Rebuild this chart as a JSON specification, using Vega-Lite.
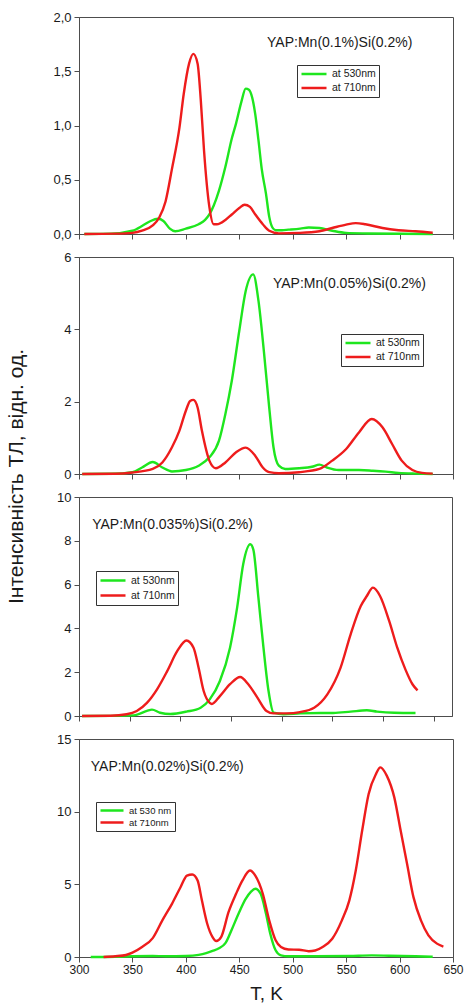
{
  "$schema": "https://vega.github.io/schema/vega-lite/v6.json",
  "background": "white",
  "padding": {"left": 4, "top": 10, "right": 0, "bottom": 0},
  "spacing": 23,
  "bounds": "flush",
  "config": {
    "font": "Liberation Sans",
    "view": {"stroke": "#4d4d4d", "strokeWidth": 1},
    "axis": {"domainColor": "#4d4d4d", "tickColor": "#4d4d4d", "labelColor": "#1a1a1a", "labelFont": "Liberation Sans", "grid": false, "domainWidth": 1, "tickWidth": 1, "titleColor": "#1a1a1a", "titleFont": "Liberation Sans", "titleFontWeight": "normal", "labelOverlap": false, "labelFlush": false},
    "legend": {"labelFont": "Liberation Sans", "labelColor": "#1a1a1a", "strokeColor": "#333333", "fillColor": "white", "symbolType": "stroke", "symbolStrokeWidth": 2.5, "rowPadding": 2, "padding": 3, "labelOffset": 4, "orient": "none", "title": null}
  },
  "datasets": {
    "p1": [
      {"s":"at 530nm","T":305,"I":0},{"s":"at 530nm","T":330,"I":0.003},{"s":"at 530nm","T":350,"I":0.03},{"s":"at 530nm","T":360,"I":0.08},{"s":"at 530nm","T":367,"I":0.12},{"s":"at 530nm","T":374,"I":0.14},{"s":"at 530nm","T":379,"I":0.12},{"s":"at 530nm","T":385,"I":0.05},{"s":"at 530nm","T":390,"I":0.025},{"s":"at 530nm","T":400,"I":0.05},{"s":"at 530nm","T":412,"I":0.09},{"s":"at 530nm","T":418,"I":0.13},{"s":"at 530nm","T":422,"I":0.18},{"s":"at 530nm","T":426,"I":0.26},{"s":"at 530nm","T":431,"I":0.4},{"s":"at 530nm","T":437,"I":0.62},{"s":"at 530nm","T":443,"I":0.88},{"s":"at 530nm","T":447,"I":1.02},{"s":"at 530nm","T":452,"I":1.22},{"s":"at 530nm","T":456,"I":1.34},{"s":"at 530nm","T":459,"I":1.33},{"s":"at 530nm","T":462,"I":1.26},{"s":"at 530nm","T":465,"I":1.1},{"s":"at 530nm","T":468,"I":0.86},{"s":"at 530nm","T":471,"I":0.6},{"s":"at 530nm","T":475,"I":0.37},{"s":"at 530nm","T":478,"I":0.16},{"s":"at 530nm","T":481,"I":0.06},{"s":"at 530nm","T":484,"I":0.035},{"s":"at 530nm","T":490,"I":0.035},{"s":"at 530nm","T":496,"I":0.04},{"s":"at 530nm","T":507,"I":0.05},{"s":"at 530nm","T":515,"I":0.06},{"s":"at 530nm","T":525,"I":0.055},{"s":"at 530nm","T":537,"I":0.03},{"s":"at 530nm","T":550,"I":0.01},{"s":"at 530nm","T":570,"I":0.005},{"s":"at 530nm","T":600,"I":0.002},{"s":"at 530nm","T":631,"I":0},
      {"s":"at 710nm","T":305,"I":0},{"s":"at 710nm","T":335,"I":0.003},{"s":"at 710nm","T":350,"I":0.01},{"s":"at 710nm","T":359,"I":0.03},{"s":"at 710nm","T":369,"I":0.08},{"s":"at 710nm","T":375,"I":0.15},{"s":"at 710nm","T":381,"I":0.3},{"s":"at 710nm","T":387,"I":0.6},{"s":"at 710nm","T":394,"I":0.98},{"s":"at 710nm","T":398,"I":1.29},{"s":"at 710nm","T":403,"I":1.57},{"s":"at 710nm","T":407,"I":1.66},{"s":"at 710nm","T":411,"I":1.57},{"s":"at 710nm","T":414,"I":1.23},{"s":"at 710nm","T":417,"I":0.77},{"s":"at 710nm","T":422,"I":0.25},{"s":"at 710nm","T":426,"I":0.09},{"s":"at 710nm","T":429,"I":0.09},{"s":"at 710nm","T":437,"I":0.13},{"s":"at 710nm","T":443,"I":0.18},{"s":"at 710nm","T":450,"I":0.24},{"s":"at 710nm","T":455,"I":0.27},{"s":"at 710nm","T":460,"I":0.25},{"s":"at 710nm","T":465,"I":0.18},{"s":"at 710nm","T":472,"I":0.09},{"s":"at 710nm","T":478,"I":0.03},{"s":"at 710nm","T":487,"I":0.006},{"s":"at 710nm","T":506,"I":0.01},{"s":"at 710nm","T":525,"I":0.025},{"s":"at 710nm","T":537,"I":0.055},{"s":"at 710nm","T":550,"I":0.086},{"s":"at 710nm","T":559,"I":0.1},{"s":"at 710nm","T":568,"I":0.09},{"s":"at 710nm","T":584,"I":0.055},{"s":"at 710nm","T":599,"I":0.035},{"s":"at 710nm","T":615,"I":0.025},{"s":"at 710nm","T":631,"I":0.012}
    ],
    "p2": [
      {"s":"at 530nm","T":303,"I":0},{"s":"at 530nm","T":330,"I":0.005},{"s":"at 530nm","T":350,"I":0.05},{"s":"at 530nm","T":359,"I":0.18},{"s":"at 530nm","T":369,"I":0.33},{"s":"at 530nm","T":378,"I":0.18},{"s":"at 530nm","T":387,"I":0.07},{"s":"at 530nm","T":400,"I":0.11},{"s":"at 530nm","T":412,"I":0.23},{"s":"at 530nm","T":422,"I":0.46},{"s":"at 530nm","T":431,"I":0.92},{"s":"at 530nm","T":437,"I":1.66},{"s":"at 530nm","T":443,"I":2.58},{"s":"at 530nm","T":450,"I":3.96},{"s":"at 530nm","T":456,"I":5.06},{"s":"at 530nm","T":463,"I":5.52},{"s":"at 530nm","T":468,"I":4.78},{"s":"at 530nm","T":473,"I":3.4},{"s":"at 530nm","T":478,"I":1.84},{"s":"at 530nm","T":482,"I":0.74},{"s":"at 530nm","T":487,"I":0.23},{"s":"at 530nm","T":493,"I":0.14},{"s":"at 530nm","T":506,"I":0.16},{"s":"at 530nm","T":518,"I":0.2},{"s":"at 530nm","T":525,"I":0.26},{"s":"at 530nm","T":532,"I":0.18},{"s":"at 530nm","T":543,"I":0.11},{"s":"at 530nm","T":562,"I":0.11},{"s":"at 530nm","T":575,"I":0.09},{"s":"at 530nm","T":587,"I":0.065},{"s":"at 530nm","T":599,"I":0.03},{"s":"at 530nm","T":615,"I":0.01},{"s":"at 530nm","T":631,"I":0},
      {"s":"at 710nm","T":303,"I":0},{"s":"at 710nm","T":334,"I":0.005},{"s":"at 710nm","T":350,"I":0.04},{"s":"at 710nm","T":369,"I":0.14},{"s":"at 710nm","T":378,"I":0.32},{"s":"at 710nm","T":387,"I":0.74},{"s":"at 710nm","T":394,"I":1.2},{"s":"at 710nm","T":400,"I":1.75},{"s":"at 710nm","T":404,"I":2.02},{"s":"at 710nm","T":407,"I":2.05},{"s":"at 710nm","T":411,"I":1.84},{"s":"at 710nm","T":415,"I":1.2},{"s":"at 710nm","T":422,"I":0.37},{"s":"at 710nm","T":428,"I":0.16},{"s":"at 710nm","T":437,"I":0.32},{"s":"at 710nm","T":447,"I":0.6},{"s":"at 710nm","T":456,"I":0.73},{"s":"at 710nm","T":465,"I":0.5},{"s":"at 710nm","T":472,"I":0.18},{"s":"at 710nm","T":478,"I":0.05},{"s":"at 710nm","T":487,"I":0.02},{"s":"at 710nm","T":506,"I":0.05},{"s":"at 710nm","T":525,"I":0.14},{"s":"at 710nm","T":537,"I":0.37},{"s":"at 710nm","T":550,"I":0.69},{"s":"at 710nm","T":562,"I":1.15},{"s":"at 710nm","T":574,"I":1.52},{"s":"at 710nm","T":584,"I":1.29},{"s":"at 710nm","T":593,"I":0.83},{"s":"at 710nm","T":602,"I":0.37},{"s":"at 710nm","T":612,"I":0.11},{"s":"at 710nm","T":621,"I":0.03},{"s":"at 710nm","T":631,"I":0.01}
    ],
    "p3": [
      {"s":"at 530nm","T":303,"I":0},{"s":"at 530nm","T":354,"I":0.03},{"s":"at 530nm","T":367,"I":0.23},{"s":"at 530nm","T":372,"I":0.29},{"s":"at 530nm","T":380,"I":0.15},{"s":"at 530nm","T":390,"I":0.09},{"s":"at 530nm","T":406,"I":0.2},{"s":"at 530nm","T":420,"I":0.38},{"s":"at 530nm","T":429,"I":0.76},{"s":"at 530nm","T":439,"I":1.6},{"s":"at 530nm","T":449,"I":3.12},{"s":"at 530nm","T":456,"I":4.95},{"s":"at 530nm","T":462,"I":6.93},{"s":"at 530nm","T":469,"I":7.84},{"s":"at 530nm","T":472,"I":7.6},{"s":"at 530nm","T":477,"I":5.4},{"s":"at 530nm","T":482,"I":3.12},{"s":"at 530nm","T":487,"I":1.14},{"s":"at 530nm","T":492,"I":0.15},{"s":"at 530nm","T":502,"I":0.08},{"s":"at 530nm","T":518,"I":0.12},{"s":"at 530nm","T":538,"I":0.14},{"s":"at 530nm","T":551,"I":0.14},{"s":"at 530nm","T":568,"I":0.2},{"s":"at 530nm","T":584,"I":0.26},{"s":"at 530nm","T":594,"I":0.2},{"s":"at 530nm","T":611,"I":0.15},{"s":"at 530nm","T":632,"I":0.14},
      {"s":"at 710nm","T":303,"I":0},{"s":"at 710nm","T":331,"I":0.01},{"s":"at 710nm","T":347,"I":0.08},{"s":"at 710nm","T":357,"I":0.23},{"s":"at 710nm","T":367,"I":0.6},{"s":"at 710nm","T":377,"I":1.22},{"s":"at 710nm","T":387,"I":2.05},{"s":"at 710nm","T":397,"I":2.97},{"s":"at 710nm","T":406,"I":3.45},{"s":"at 710nm","T":413,"I":3.12},{"s":"at 710nm","T":418,"I":2.2},{"s":"at 710nm","T":423,"I":1.14},{"s":"at 710nm","T":429,"I":0.6},{"s":"at 710nm","T":431,"I":0.55},{"s":"at 710nm","T":439,"I":0.91},{"s":"at 710nm","T":449,"I":1.45},{"s":"at 710nm","T":459,"I":1.78},{"s":"at 710nm","T":467,"I":1.45},{"s":"at 710nm","T":476,"I":0.84},{"s":"at 710nm","T":485,"I":0.23},{"s":"at 710nm","T":492,"I":0.12},{"s":"at 710nm","T":505,"I":0.12},{"s":"at 710nm","T":518,"I":0.18},{"s":"at 710nm","T":532,"I":0.38},{"s":"at 710nm","T":545,"I":0.99},{"s":"at 710nm","T":558,"I":2.2},{"s":"at 710nm","T":568,"I":3.73},{"s":"at 710nm","T":578,"I":5.02},{"s":"at 710nm","T":584,"I":5.48},{"s":"at 710nm","T":590,"I":5.86},{"s":"at 710nm","T":597,"I":5.48},{"s":"at 710nm","T":606,"I":4.34},{"s":"at 710nm","T":614,"I":3.12},{"s":"at 710nm","T":622,"I":2.13},{"s":"at 710nm","T":629,"I":1.45},{"s":"at 710nm","T":634,"I":1.17}
    ],
    "p4": [
      {"s":"at 530 nm","T":311,"I":0},{"s":"at 530 nm","T":334,"I":0.01},{"s":"at 530 nm","T":350,"I":0.05},{"s":"at 530 nm","T":369,"I":0.07},{"s":"at 530 nm","T":381,"I":0.05},{"s":"at 530 nm","T":400,"I":0.07},{"s":"at 530 nm","T":412,"I":0.15},{"s":"at 530 nm","T":419,"I":0.27},{"s":"at 530 nm","T":425,"I":0.42},{"s":"at 530 nm","T":431,"I":0.6},{"s":"at 530 nm","T":437,"I":0.95},{"s":"at 530 nm","T":443,"I":1.9},{"s":"at 530 nm","T":450,"I":3.1},{"s":"at 530 nm","T":456,"I":4.0},{"s":"at 530 nm","T":461,"I":4.5},{"s":"at 530 nm","T":465,"I":4.7},{"s":"at 530 nm","T":470,"I":4.35},{"s":"at 530 nm","T":475,"I":2.98},{"s":"at 530 nm","T":479,"I":1.6},{"s":"at 530 nm","T":484,"I":0.46},{"s":"at 530 nm","T":489,"I":0.11},{"s":"at 530 nm","T":496,"I":0.05},{"s":"at 530 nm","T":521,"I":0.05},{"s":"at 530 nm","T":553,"I":0.07},{"s":"at 530 nm","T":574,"I":0.11},{"s":"at 530 nm","T":590,"I":0.09},{"s":"at 530 nm","T":615,"I":0.05},{"s":"at 530 nm","T":631,"I":0.02},
      {"s":"at 710nm","T":323,"I":0},{"s":"at 710nm","T":334,"I":0.05},{"s":"at 710nm","T":344,"I":0.14},{"s":"at 710nm","T":350,"I":0.3},{"s":"at 710nm","T":359,"I":0.69},{"s":"at 710nm","T":369,"I":1.3},{"s":"at 710nm","T":378,"I":2.52},{"s":"at 710nm","T":387,"I":3.66},{"s":"at 710nm","T":395,"I":4.8},{"s":"at 710nm","T":401,"I":5.6},{"s":"at 710nm","T":406,"I":5.68},{"s":"at 710nm","T":411,"I":5.27},{"s":"at 710nm","T":415,"I":3.9},{"s":"at 710nm","T":420,"I":2.29},{"s":"at 710nm","T":425,"I":1.37},{"s":"at 710nm","T":428.5,"I":1.1},{"s":"at 710nm","T":433,"I":1.37},{"s":"at 710nm","T":440,"I":3.1},{"s":"at 710nm","T":447,"I":4.35},{"s":"at 710nm","T":453,"I":5.27},{"s":"at 710nm","T":460,"I":5.95},{"s":"at 710nm","T":465,"I":5.6},{"s":"at 710nm","T":472,"I":4.35},{"s":"at 710nm","T":478,"I":2.52},{"s":"at 710nm","T":484,"I":1.15},{"s":"at 710nm","T":489,"I":0.69},{"s":"at 710nm","T":496,"I":0.52},{"s":"at 710nm","T":506,"I":0.5},{"s":"at 710nm","T":515,"I":0.4},{"s":"at 710nm","T":521,"I":0.45},{"s":"at 710nm","T":528,"I":0.69},{"s":"at 710nm","T":537,"I":1.26},{"s":"at 710nm","T":546,"I":2.52},{"s":"at 710nm","T":553,"I":3.9},{"s":"at 710nm","T":559,"I":5.95},{"s":"at 710nm","T":565,"I":8.7},{"s":"at 710nm","T":571,"I":11.2},{"s":"at 710nm","T":578,"I":12.6},{"s":"at 710nm","T":582,"I":13.05},{"s":"at 710nm","T":588,"I":12.48},{"s":"at 710nm","T":595,"I":11.0},{"s":"at 710nm","T":601,"I":8.7},{"s":"at 710nm","T":607,"I":6.41},{"s":"at 710nm","T":613,"I":4.12},{"s":"at 710nm","T":620,"I":2.52},{"s":"at 710nm","T":627,"I":1.49},{"s":"at 710nm","T":635,"I":0.92},{"s":"at 710nm","T":641,"I":0.72}
    ]
  },
  "vconcat": [
    {
      "width": 374, "height": 217,
      "layer": [
        {
          "data": {"name": "p1"},
          "mark": {"type": "line", "strokeWidth": 2.4, "interpolate": "monotone"},
          "encoding": {
            "x": {"field": "T", "type": "quantitative", "scale": {"domain": [300, 650], "nice": false, "zero": false}, "axis": {"title": null, "labels": false, "values": [300,325,350,375,400,425,450,475,500,525,550,575,600,625,650], "tickSize": {"condition": {"test": "datum.value % 50 === 0", "value": 5}, "value": 3}}},
            "y": {"field": "I", "type": "quantitative", "scale": {"domain": [0, 2], "nice": false}, "axis": {"title": null, "values": [0,0.25,0.5,0.75,1,1.25,1.5,1.75,2], "labelFontSize": 13, "labelPadding": 3, "labelExpr": "datum.value % 0.5 === 0 ? replace(format(datum.value, '.1f'), '.', ',') : ''", "tickSize": {"condition": {"test": "datum.value % 0.5 === 0", "value": 5}, "value": 3}}},
            "color": {"field": "s", "type": "nominal", "scale": {"domain": ["at 530nm", "at 710nm"], "range": ["#1ee61e", "#ee1c1c"]}, "legend": {"legendX": 218, "legendY": 48, "symbolSize": 625, "clipHeight": 12, "labelFontSize": 10.5}}
          }
        },
        {
          "data": {"values": [{}]},
          "mark": {"type": "text", "align": "left", "baseline": "alphabetic", "fontSize": 14, "color": "#1a1a1a"},
          "encoding": {"x": {"datum": 476}, "y": {"datum": 1.72}, "text": {"value": "YAP:Mn(0.1%)Si(0.2%)"}}
        }
      ]
    },
    {
      "width": 374, "height": 217,
      "layer": [
        {
          "data": {"name": "p2"},
          "mark": {"type": "line", "strokeWidth": 2.4, "interpolate": "monotone"},
          "encoding": {
            "x": {"field": "T", "type": "quantitative", "scale": {"domain": [300, 650], "nice": false, "zero": false}, "axis": {"title": null, "labels": false, "values": [300,325,350,375,400,425,450,475,500,525,550,575,600,625,650], "tickSize": {"condition": {"test": "datum.value % 50 === 0", "value": 5}, "value": 3}}},
            "y": {"field": "I", "type": "quantitative", "scale": {"domain": [0, 6], "nice": false}, "axis": {"title": "Інтенсивність ТЛ, відн. од.", "titleFontSize": 21, "titleX": -63, "titleY": 219, "titleAngle": 270, "titleAlign": "center", "titleBaseline": "middle", "values": [0,1,2,3,4,5,6], "labelFontSize": 13, "labelPadding": 3, "labelExpr": "datum.value % 2 === 0 ? datum.label : ''", "tickSize": {"condition": {"test": "datum.value % 2 === 0", "value": 5}, "value": 3}}},
            "color": {"field": "s", "type": "nominal", "scale": {"domain": ["at 530nm", "at 710nm"], "range": ["#1ee61e", "#ee1c1c"]}, "legend": {"legendX": 262, "legendY": 77, "symbolSize": 625, "clipHeight": 12, "labelFontSize": 10.5}}
          }
        },
        {
          "data": {"values": [{}]},
          "mark": {"type": "text", "align": "left", "baseline": "alphabetic", "fontSize": 14, "color": "#1a1a1a"},
          "encoding": {"x": {"datum": 481.5}, "y": {"datum": 5.15}, "text": {"value": "YAP:Mn(0.05%)Si(0.2%)"}}
        }
      ]
    },
    {
      "width": 373, "height": 219,
      "layer": [
        {
          "data": {"name": "p3"},
          "mark": {"type": "line", "strokeWidth": 2.4, "interpolate": "monotone"},
          "encoding": {
            "x": {"field": "T", "type": "quantitative", "scale": {"domain": [300, 668], "nice": false, "zero": false}, "axis": {"title": null, "labels": false, "values": [300,325,350,375,400,425,450,475,500,525,550,575,600,625,650], "tickSize": {"condition": {"test": "datum.value % 50 === 0", "value": 5}, "value": 3}}},
            "y": {"field": "I", "type": "quantitative", "scale": {"domain": [0, 10], "nice": false}, "axis": {"title": null, "values": [0,1,2,3,4,5,6,7,8,9,10], "labelFontSize": 13, "labelPadding": 3, "labelExpr": "datum.value % 2 === 0 ? datum.label : ''", "tickSize": {"condition": {"test": "datum.value % 2 === 0", "value": 5}, "value": 3}}},
            "color": {"field": "s", "type": "nominal", "scale": {"domain": ["at 530nm", "at 710nm"], "range": ["#1ee61e", "#ee1c1c"]}, "legend": {"legendX": 17, "legendY": 74, "symbolSize": 625, "clipHeight": 13, "labelFontSize": 10.5}}
          }
        },
        {
          "data": {"values": [{}]},
          "mark": {"type": "text", "align": "left", "baseline": "alphabetic", "fontSize": 14, "color": "#1a1a1a"},
          "encoding": {"x": {"datum": 313}, "y": {"datum": 8.55}, "text": {"value": "YAP:Mn(0.035%)Si(0.2%)"}}
        }
      ]
    },
    {
      "width": 374, "height": 218,
      "layer": [
        {
          "data": {"name": "p4"},
          "mark": {"type": "line", "strokeWidth": 2.4, "interpolate": "monotone"},
          "encoding": {
            "x": {"field": "T", "type": "quantitative", "scale": {"domain": [300, 650], "nice": false, "zero": false}, "axis": {"title": "T, K", "titleFontSize": 19, "titlePadding": 9, "values": [300,325,350,375,400,425,450,475,500,525,550,575,600,625,650], "labelFontSize": 12, "labelPadding": 2, "labelExpr": "datum.value % 50 === 0 ? datum.label : ''", "tickSize": {"condition": {"test": "datum.value % 50 === 0", "value": 5}, "value": 3}}},
            "y": {"field": "I", "type": "quantitative", "scale": {"domain": [0, 15], "nice": false}, "axis": {"title": null, "values": [0,2.5,5,7.5,10,12.5,15], "labelFontSize": 13, "labelPadding": 3, "labelExpr": "datum.value % 5 === 0 ? datum.label : ''", "tickSize": {"condition": {"test": "datum.value % 5 === 0", "value": 5}, "value": 3}}},
            "color": {"field": "s", "type": "nominal", "scale": {"domain": ["at 530 nm", "at 710nm"], "range": ["#1ee61e", "#ee1c1c"]}, "legend": {"legendX": 17, "legendY": 63, "symbolSize": 529, "clipHeight": 11, "rowPadding": 1, "labelFontSize": 9.5}}
          }
        },
        {
          "data": {"values": [{}]},
          "mark": {"type": "text", "align": "left", "baseline": "alphabetic", "fontSize": 14, "color": "#1a1a1a"},
          "encoding": {"x": {"datum": 311}, "y": {"datum": 12.82}, "text": {"value": "YAP:Mn(0.02%)Si(0.2%)"}}
        }
      ]
    }
  ],
  "resolve": {"scale": {"x": "independent", "y": "independent", "color": "independent"}, "axis": {"x": "independent", "y": "independent"}, "legend": {"color": "independent"}}
}
